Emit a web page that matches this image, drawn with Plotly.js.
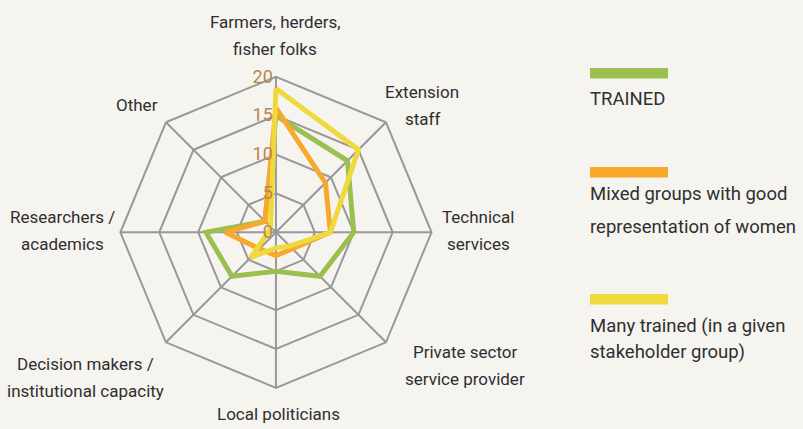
<!DOCTYPE html>
<html>
<head>
<meta charset="utf-8">
<script src="https://cdn.plot.ly/plotly-3.0.1.min.js"></script>
<style>
  html, body { margin: 0; padding: 0; background: #f5f4ef; }
  #chart { width: 803px; height: 429px; }
</style>
</head>
<body>
<div id="chart"></div>
<script>
// Stakeholder groups, clockwise from the top
const categories = [
    'Farmers, herders,<br>fisher folks',
    'Extension<br>staff',
    'Technical<br>services',
    'Private sector<br>service provider',
    'Local politicians',
    'Decision makers /<br>institutional capacity',
    'Researchers /<br>academics',
    'Other'
];

// Series values
const trained = [15, 13, 10, 8, 5, 8, 9, 2];
const mixedGroups = [16, 9, 7, 3, 3, 3, 6.5, 2];
const manyTrained = [18.5, 15, 7, 2.5, 2, 4.6, 1, 1];

const seriesNames = [
    'TRAINED',
    'Mixed groups with good<br>representation of women',
    'Many trained (in a given<br>stakeholder group)'
];
const seriesColors = ['#9bc04f', '#f8a82a', '#efd93d'];
const radialTicks = [0, 5, 10, 15, 20];

const textFont = 'Roboto, "Liberation Sans", sans-serif';
const W = 803, H = 429;

// centre (px) of the first line of each category label, like the original layout
const labelPos = [[275, 22], [422, 92], [478, 217], [465, 352], [278, 414], [85, 364], [62, 217], [137, 105]];
const labelLineGap = 27;

// close the polygon by repeating the first point
function closed(arr) {
    return arr.concat([arr[0]]);
}

function buildTraces() {
    return [trained, mixedGroups, manyTrained].map((vals, i) => ({
        type: 'scatterpolar',
        r: closed(vals),
        theta: closed(categories),
        mode: 'lines',
        name: seriesNames[i],
        line: { color: seriesColors[i], width: 5 },
        hoverinfo: 'skip'
    }));
}

function textNote(text, x, y, anchor, size) {
    return {
        xref: 'paper', yref: 'paper',
        x: x / W, y: 1 - y / H,
        xanchor: anchor, yanchor: 'middle',
        text: text, showarrow: false,
        font: { family: textFont, size: size, color: '#2f2f2f' }
    };
}

// Category labels, one annotation per line so the line gap matches
function buildCategoryLabels() {
    const notes = [];
    categories.forEach((cat, i) => {
        cat.split('<br>').forEach((line, j) => {
            notes.push(textNote(line, labelPos[i][0], labelPos[i][1] + j * labelLineGap, 'center', 17));
        });
    });
    return notes;
}

// Legend drawn as coloured bars with the label underneath
function buildLegend() {
    const shapes = [];
    const annotations = [];
    const barTops = [68, 167, 294];
    const textRows = [[99], [194, 227], [326, 352]];
    seriesNames.forEach((name, i) => {
        shapes.push({
            type: 'rect', xref: 'paper', yref: 'paper',
            x0: 590 / W, x1: 668 / W,
            y0: 1 - (barTops[i] + 10.5) / H, y1: 1 - barTops[i] / H,
            fillcolor: seriesColors[i], line: { width: 0 }
        });
        name.split('<br>').forEach((line, j) => {
            annotations.push(textNote(line, 588, textRows[i][j], 'left', 18.5));
        });
    });
    return { shapes, annotations };
}

function plotRadar() {
    const legend = buildLegend();
    const layout = {
        width: W,
        height: H,
        margin: { t: 0, r: 0, b: 0, l: 0 },
        paper_bgcolor: '#f5f4ef',
        plot_bgcolor: '#f5f4ef',
        showlegend: false,
        polar: {
            domain: { x: [0.1499, 0.5374], y: [0.0958, 0.8212] },
            bgcolor: 'rgba(0,0,0,0)',
            gridshape: 'linear',
            radialaxis: {
                range: [0, 20],
                tickvals: radialTicks,
                ticktext: radialTicks.map(String),
                angle: 90,
                tickangle: 90,
                side: 'counterclockwise',
                showline: false,
                ticks: '',
                gridcolor: '#98989a',
                gridwidth: 2,
                tickfont: { family: textFont, size: 18, color: '#b8874d' }
            },
            angularaxis: {
                direction: 'clockwise',
                rotation: 90,
                showline: true,
                linecolor: '#98989a',
                linewidth: 2,
                gridcolor: '#98989a',
                gridwidth: 2,
                ticks: '',
                showticklabels: false
            }
        },
        shapes: legend.shapes,
        annotations: buildCategoryLabels().concat(legend.annotations)
    };

    Plotly.newPlot('chart', buildTraces(), layout, { displayModeBar: false, staticPlot: true });
}

document.addEventListener('DOMContentLoaded', plotRadar);
</script>
</body>
</html>
